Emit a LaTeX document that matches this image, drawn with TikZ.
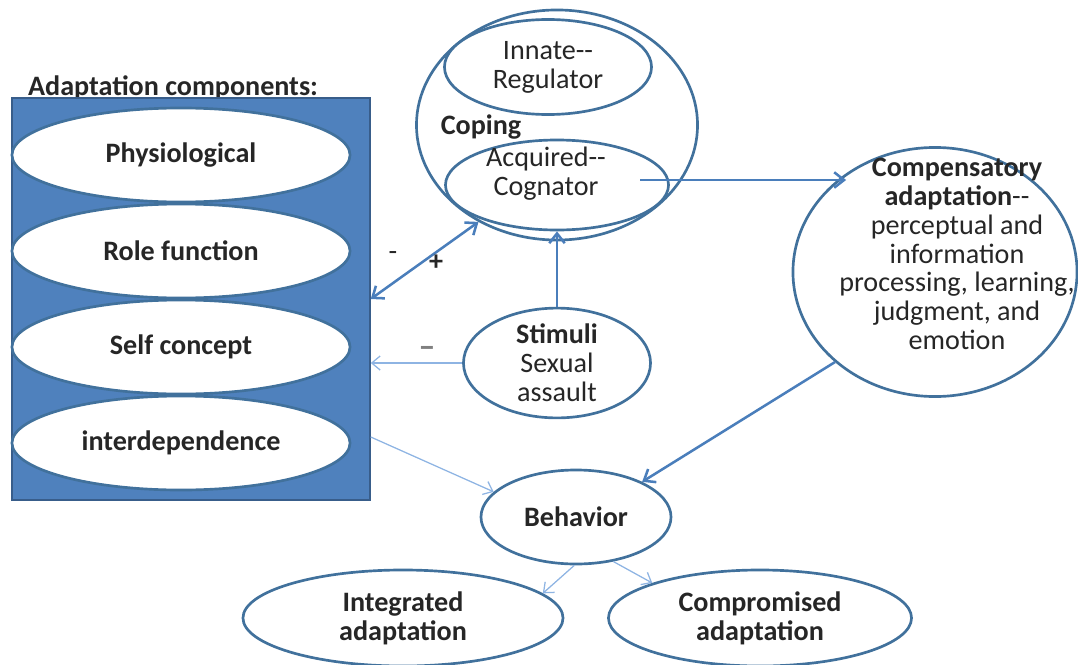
\documentclass[tikz,border=0pt]{standalone}
\usepackage{fontspec}
\setmainfont{Carlito}
\usepackage{tikz}
\usetikzlibrary{shapes.geometric}
\usetikzlibrary{arrows.meta}
\definecolor{boxblue}{HTML}{4F81BD}
\definecolor{boxedge}{HTML}{385D8A}
\definecolor{edgeblue}{HTML}{41719C}
\definecolor{arrowblue}{HTML}{4A7EBB}
\definecolor{lightblue}{HTML}{8EB4E3}
\definecolor{textgray}{HTML}{262626}
\newcommand{\labfont}{\fontsize{20}{20.5}\selectfont}
\tikzstyle{oval} = [ellipse, draw=edgeblue, line width=1.9pt, fill=white, inner sep=0pt, text=textgray, align=center, font=\labfont]
\tikzstyle{boldoval} = [oval, font=\labfont\bfseries]
\tikzstyle{words} = [text=textgray, align=center, inner sep=0pt, font=\labfont]
\tikzstyle{boldwords} = [words, font=\labfont\bfseries]
\tikzstyle{bigarrow} = [-{Straight Barb[length=7pt,width=11pt]}, draw=arrowblue, line width=1.8pt]
\tikzstyle{thinarrow} = [-{Straight Barb[length=6pt,width=10pt]}, draw=lightblue, line width=0.9pt]

\begin{document}
\begin{tikzpicture}[x=0.025cm, y=-0.025cm]

  \useasboundingbox (0,0) rectangle (1078,664);

  % adaptation components
  \node[boldwords] (title) at (173,88) {Adaptation components:};
  \node[rectangle, draw=boxedge, fill=boxblue, line width=1pt, minimum width=8.95cm, minimum height=10.05cm] (comps) at (191,299) {};
  \node[boldoval, minimum width=8.45cm, minimum height=2.35cm] (physio) at (181,155) {Physiological};
  \node[boldoval, minimum width=8.45cm, minimum height=2.35cm] (role) at (181,251) {Role function};
  \node[boldoval, minimum width=8.45cm, minimum height=2.35cm] (self) at (181,347) {Self concept};
  \node[boldoval, minimum width=8.45cm, minimum height=2.35cm] (interdep) at (181,443) {interdependence};

  % coping
  \node[oval, minimum width=7.025cm, minimum height=5.75cm] (coping) at (557,125) {};
  \node[oval, minimum width=5.175cm, minimum height=2.375cm] (innate) at (548,67) {Innate{-}{-}\\Regulator};
  \node[oval, minimum width=5.575cm, minimum height=2.25cm] (cognator) at (557,185) {};
  \node[words] (cogtext) at (546,174) {Acquired{-}{-}\\Cognator};
  \node[boldwords] (copetext) at (481,127) {Coping};

  % compensatory adaptation
  \node[oval, minimum width=7.1cm, minimum height=6.225cm] (compens) at (935,272) {};
  \node[words] (comptext) at (957,254) {\textbf{Compensatory}\\\textbf{adaptation}{-}{-}\\perceptual and\\information\\processing, learning,\\judgment, and\\emotion};

  \node[oval, minimum width=4.675cm, minimum height=2.25cm] (stimuli) at (557,363) {\textbf{Stimuli}\\Sexual\\assault};
  \node[boldoval, minimum width=4.75cm, minimum height=2.35cm] (behavior) at (576,517) {Behavior};
  \node[boldoval, minimum width=8cm, minimum height=2.4cm] (integ) at (403,618) {Integrated\\adaptation};
  \node[boldoval, minimum width=7.575cm, minimum height=2.4cm] (compro) at (760,618) {Compromised\\adaptation};

  % connectors
  \coordinate (cogout) at (640,180);
  \draw[bigarrow] (cogout) -- (cogout -| compens.132);
  \draw[bigarrow] (stimuli.north) -- (cognator.south);
  \draw[bigarrow, {Straight Barb[length=7pt,width=11pt]}-{Straight Barb[length=7pt,width=11pt]}] (comps.east) -- (coping.231);
  \draw[bigarrow] (compens.222) -- (behavior.28);
  \draw[thinarrow] (stimuli.west) -- (stimuli.west -| comps.east);
  \draw[thinarrow] (interdep -| comps.east) ++(0,-6) -- (behavior.163);
  \draw[thinarrow] (behavior.268) -- (integ.10);
  \draw[thinarrow] (behavior.-50) -- (compro.162);

  \node[words] (minus) at (393,256) {-};
  \node[boldwords] (plus) at (436,263) {+};
  \node[boldwords, text=gray, scale=1.2] (dash) at (427,352) {--};

\end{tikzpicture}
\end{document}
